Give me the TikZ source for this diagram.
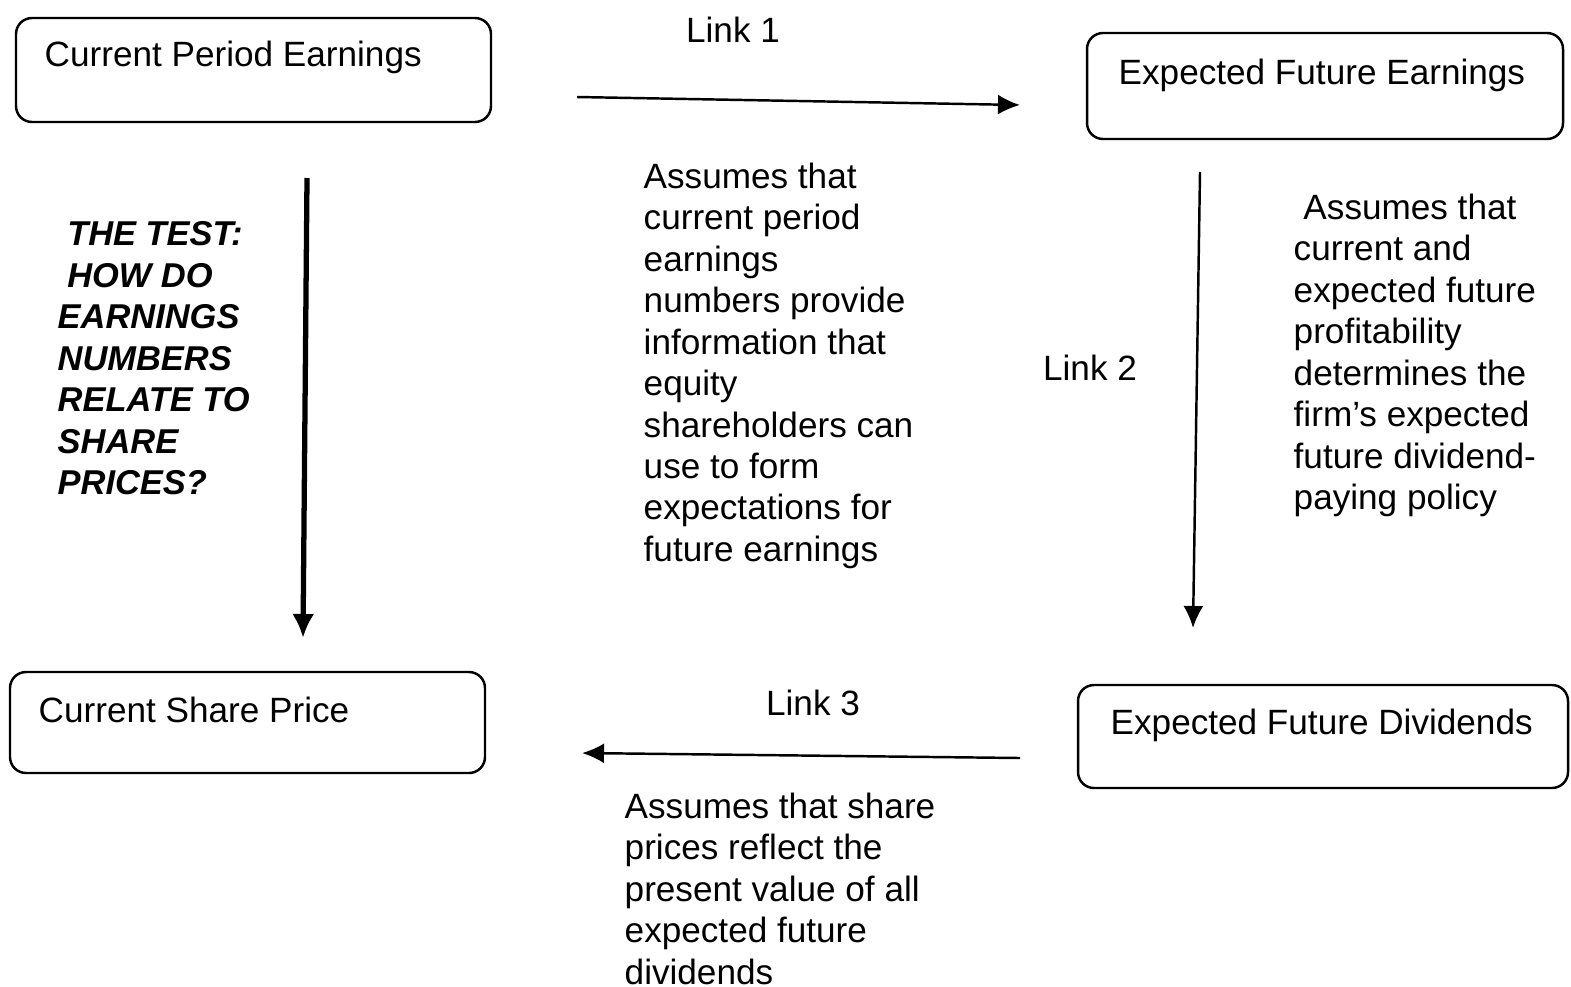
\documentclass[tikz,border=0pt]{standalone}
\usepackage{fontspec}
\setmainfont{Liberation Sans}
\usepackage{tikz}
\usetikzlibrary{calc}
\usetikzlibrary{arrows.meta}
\tikzstyle{every node}=[font=\fontsize{10}{11.8}\selectfont, inner sep=0pt]
\tikzstyle{box}=[line width=0.7pt, rounded corners=0.16cm]
\tikzstyle{boxtext}=[anchor=west]
\tikzstyle{note}=[anchor=north west, align=left]
\tikzstyle{link}=[line width=0.7pt, -{Latex[length=2.2mm,width=2mm]}]

\begin{document}
\begin{tikzpicture}
            \useasboundingbox (0,0) rectangle (15.71,9.86);

            % the four boxes
            \coordinate (CPE1) at (0.16, 9.68);
            \coordinate (CPE2) at (4.91, 8.64);
            \coordinate (EFE1) at (10.87, 9.53);
            \coordinate (EFE2) at (15.63, 8.47);
            \coordinate (CSP1) at (0.10, 3.14);
            \coordinate (CSP2) at (4.85, 2.13);
            \coordinate (EFD1) at (10.78, 3.01);
            \coordinate (EFD2) at (15.68, 1.98);

            \draw [box] (CPE1) rectangle (CPE2);
            \draw [box] (EFE1) rectangle (EFE2);
            \draw [box] (CSP1) rectangle (CSP2);
            \draw [box] (EFD1) rectangle (EFD2);

            \node [boxtext] (cpe) at (0.44, 9.29) {Current Period Earnings};
            \node [boxtext] (efe) at (11.18, 9.11) {Expected Future Earnings};
            \node [boxtext] (csp) at (0.38, 2.76) {Current Share Price};
            \node [boxtext] (efd) at (11.10, 2.61) {Expected Future Dividends};

            % links
            \coordinate (L1a) at (5.77, 8.89);
            \coordinate (L1b) at (10.20, 8.81);
            \coordinate (L2a) at (12.00, 8.14);
            \coordinate (L2b) at (11.93, 3.58);
            \coordinate (L3a) at (10.20, 2.28);
            \coordinate (L3b) at (5.82, 2.33);
            \coordinate (Ta) at (3.07, 8.08);
            \coordinate (Tb) at (3.03, 3.48);

            \draw [link] (L1a) -- (L1b);
            \draw [link] (L2a) -- (L2b);
            \draw [link] (L3a) -- (L3b);
            \draw [line width=1.5pt, -{Latex[length=2.4mm,width=2.2mm]}] (Ta) -- (Tb);

            \node (link1) at (7.33, 9.56) {Link 1};
            \node (link2) at (10.90, 6.18) {Link 2};
            \node (link3) at (8.13, 2.83) {Link 3};

            % texts
            \node [note, font=\fontsize{9.8}{11.8}\selectfont\bfseries\itshape] (test) at (0.57, 7.65)
                {\ THE TEST:\\\ HOW DO\\EARNINGS\\NUMBERS\\RELATE TO\\SHARE\\PRICES?};
            \node [note] (note1) at (6.43, 8.24)
                {Assumes that\\current period\\earnings\\numbers provide\\information that\\equity\\shareholders can\\use to form\\expectations for\\future earnings};
            \node [note] (note2) at (12.93, 7.93)
                {\ Assumes that\\current and\\expected future\\profitability\\determines the\\firm’s expected\\future dividend-\\paying policy};
            \node [note] (note3) at (6.24, 1.94)
                {Assumes that share\\prices reflect the\\present value of all\\expected future\\dividends};
        \end{tikzpicture}
\end{document}
